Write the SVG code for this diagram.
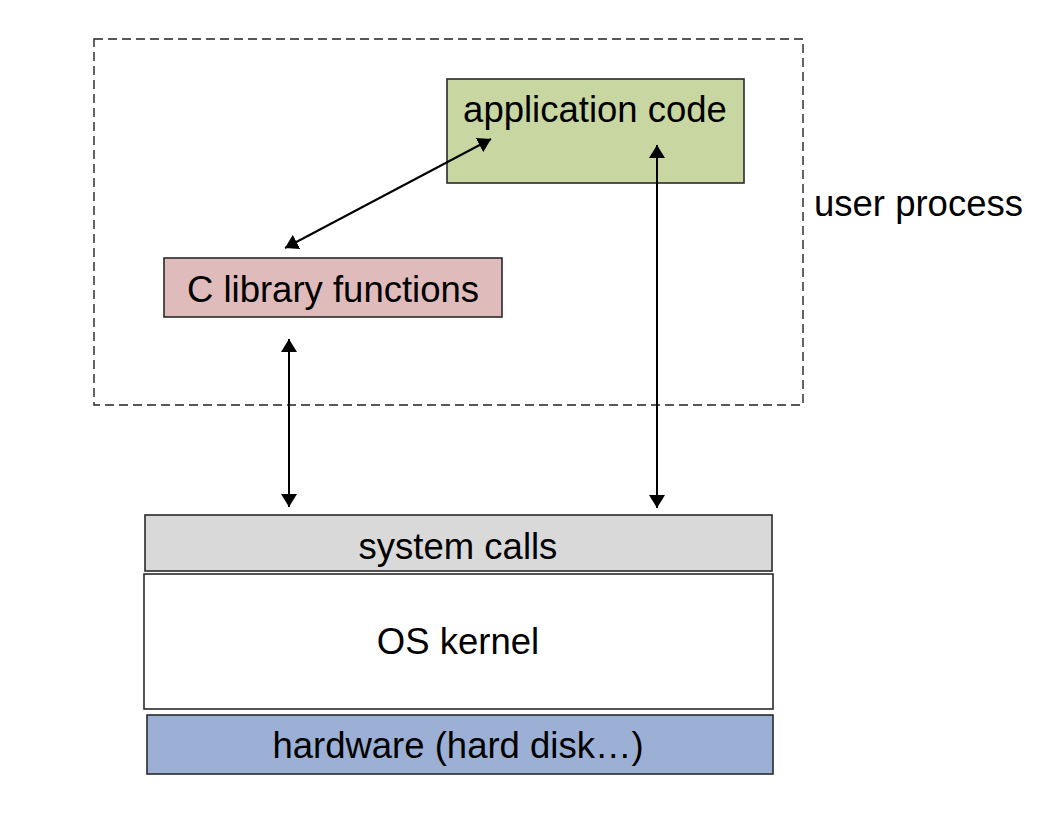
<svg xmlns="http://www.w3.org/2000/svg" width="1062" height="824" viewBox="0 0 1062 824">
<style>
  text { font-family: "Liberation Sans", Arial, sans-serif; font-size: 36.5px; fill: #000; }
  .box { stroke: #2a2a2a; stroke-width: 1.6; }
  .conn { stroke: #000; stroke-width: 2; fill: none; marker-start: url(#ah); marker-end: url(#ah); }
</style>
<defs>
  <marker id="ah" viewBox="0 0 13 16" refX="13" refY="8" markerWidth="13" markerHeight="16" markerUnits="userSpaceOnUse" orient="auto-start-reverse">
    <path d="M0,0 L13,8 L0,16 Z" fill="#000"/>
  </marker>
</defs>
<rect width="1062" height="824" fill="#fff"/>
<g id="user-process">
  <rect x="94" y="39" width="709" height="366" fill="none" stroke="#222" stroke-width="1.4" stroke-dasharray="9,5"/>
  <text x="814" y="216">user process</text>
</g>
<g id="application-code">
  <rect class="box" x="447" y="79" width="297" height="104" fill="#C8D6A2"/>
  <text x="595" y="122" text-anchor="middle">application code</text>
</g>
<g id="c-library">
  <rect class="box" x="164" y="258" width="338" height="59" fill="#E0BBBB"/>
  <text x="333" y="302" text-anchor="middle">C library functions</text>
</g>
<g id="system-calls">
  <rect class="box" x="145" y="515" width="627" height="56" fill="#D9D9D9"/>
  <text x="458" y="559" text-anchor="middle">system calls</text>
</g>
<g id="os-kernel">
  <rect class="box" x="144" y="574" width="629" height="135" fill="#fff"/>
  <text x="458" y="654" text-anchor="middle">OS kernel</text>
</g>
<g id="hardware">
  <rect class="box" x="147" y="715" width="626" height="59" fill="#9BB0D4"/>
  <text x="458" y="758" text-anchor="middle">hardware (hard disk…)</text>
</g>
<g id="connectors">
  <line class="conn" x1="285" y1="248" x2="491" y2="139"/>
  <line class="conn" x1="289" y1="339" x2="289" y2="507"/>
  <line class="conn" x1="657" y1="145" x2="657" y2="508"/>
</g>
</svg>
